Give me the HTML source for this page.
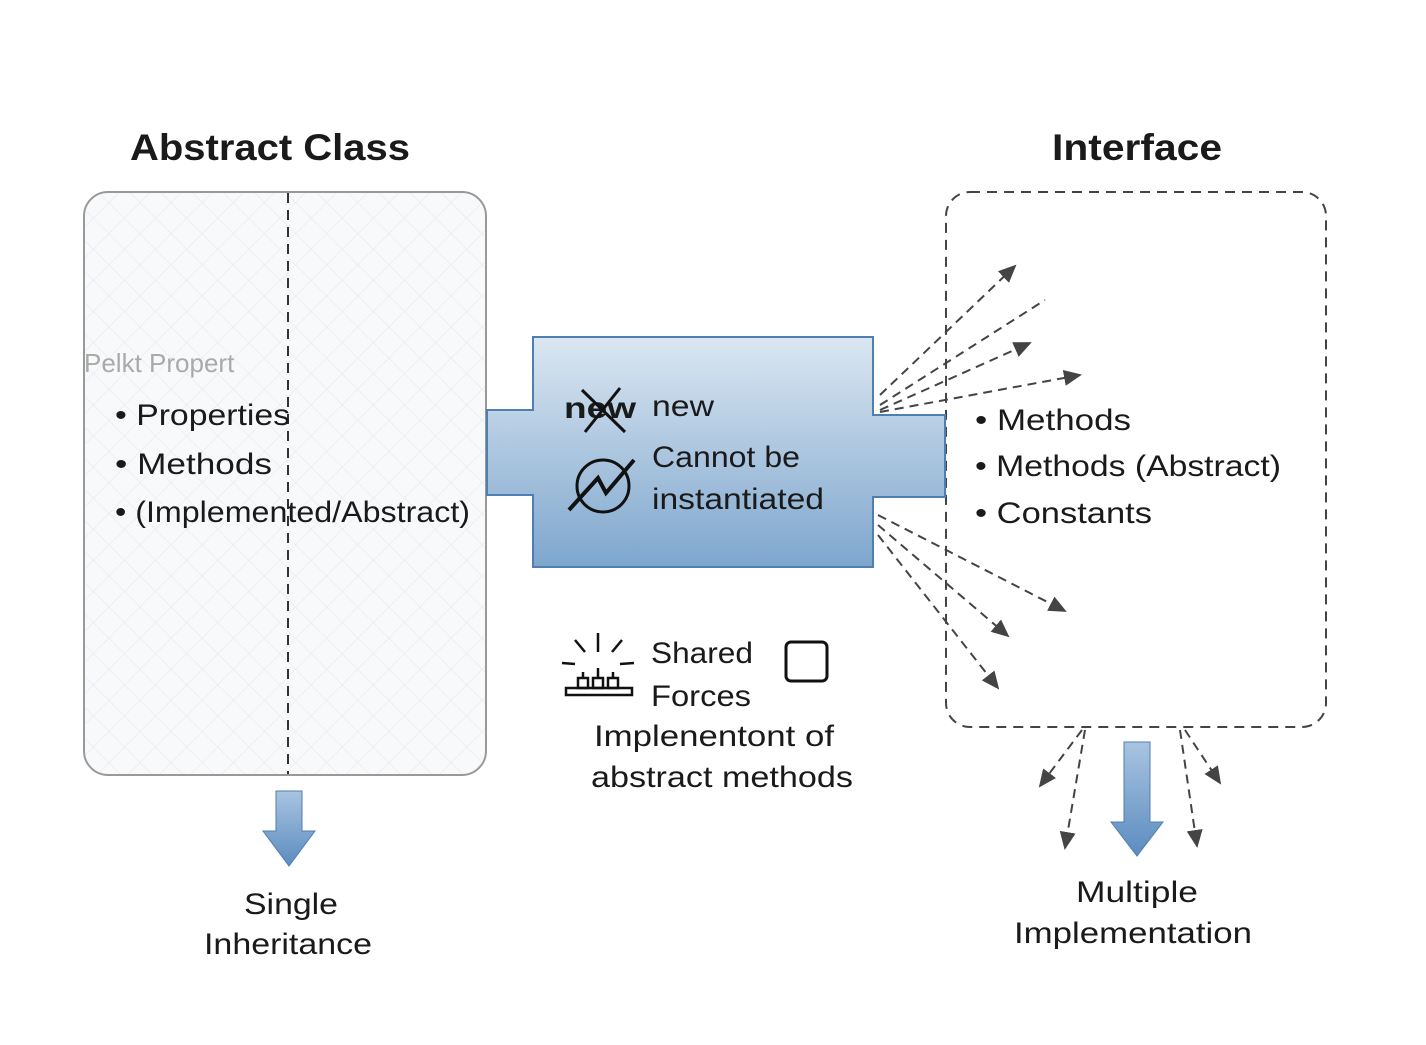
<!DOCTYPE html>
<html><head><style>
html,body{margin:0;padding:0;background:#fff;}
svg text{font-family:"Liberation Sans",sans-serif;fill:#1a1a1a;}
</style></head><body>
<svg width="1426" height="1040" viewBox="0 0 1426 1040" xmlns="http://www.w3.org/2000/svg">
<defs>
<linearGradient id="bg" x1="0" y1="0" x2="0" y2="1">
<stop offset="0" stop-color="#dbe7f2"/><stop offset="1" stop-color="#7ea6cd"/></linearGradient>
<linearGradient id="ar" x1="0" y1="0" x2="0" y2="1">
<stop offset="0" stop-color="#a9c4e0"/><stop offset="1" stop-color="#5b8cc0"/></linearGradient>
<pattern id="grid" width="22" height="22" patternUnits="userSpaceOnUse" patternTransform="rotate(45)">
<path d="M0 0H22M0 0V22" stroke="#e3e7ec" stroke-width="1"/></pattern>
<marker id="ah" markerWidth="10" markerHeight="10" refX="8" refY="5" orient="auto"><path d="M0 1L9 5L0 9z" fill="#444"/></marker>
</defs>
<g lengthAdjust="spacingAndGlyphs">
<text x="130" y="160" font-size="37" font-weight="bold" textLength="280" lengthAdjust="spacingAndGlyphs">Abstract Class</text>
<text x="1052" y="160" font-size="37" font-weight="bold" textLength="170" lengthAdjust="spacingAndGlyphs">Interface</text>
</g>
<rect x="84" y="192" width="402" height="583" rx="24" fill="#f8f9fb" stroke="#999" stroke-width="2"/>
<rect x="85" y="193" width="400" height="581" rx="23" fill="url(#grid)"/>
<line x1="288" y1="193" x2="288" y2="774" stroke="#333" stroke-width="2" stroke-dasharray="10,7"/>
<text x="84" y="372" font-size="26" style="fill:#aaa">Pelkt Propert</text>
<text x="115" y="425" font-size="30" textLength="175" lengthAdjust="spacingAndGlyphs">• Properties</text>
<text x="115" y="474" font-size="30" textLength="157" lengthAdjust="spacingAndGlyphs">• Methods</text>
<text x="115" y="522" font-size="30" textLength="355" lengthAdjust="spacingAndGlyphs">• (Implemented/Abstract)</text>
<rect x="946" y="192" width="380" height="535" rx="24" fill="none" stroke="#444" stroke-width="2" stroke-dasharray="10,7"/>
<g stroke="#444" stroke-width="2" stroke-dasharray="9,6" fill="none">
<line x1="880" y1="395" x2="1015" y2="266" marker-end="url(#ah)"/>
<line x1="880" y1="405" x2="1045" y2="300"/>
<line x1="880" y1="410" x2="1030" y2="343" marker-end="url(#ah)"/>
<line x1="880" y1="412" x2="1080" y2="375" marker-end="url(#ah)"/>
<line x1="878" y1="515" x2="1065" y2="611" marker-end="url(#ah)"/>
<line x1="878" y1="525" x2="1008" y2="636" marker-end="url(#ah)"/>
<line x1="878" y1="535" x2="998" y2="688" marker-end="url(#ah)"/>
<line x1="1082" y1="730" x2="1040" y2="786" marker-end="url(#ah)"/>
<line x1="1085" y1="730" x2="1065" y2="848" marker-end="url(#ah)"/>
<line x1="1180" y1="730" x2="1197" y2="846" marker-end="url(#ah)"/>
<line x1="1185" y1="730" x2="1220" y2="783" marker-end="url(#ah)"/>
</g>
<path d="M487 410H533V337H873V415H945V497H873V567H533V495H487Z" fill="url(#bg)" stroke="#4f7fb0" stroke-width="2"/>
<text x="564" y="418" font-size="30" font-weight="bold" textLength="72" lengthAdjust="spacingAndGlyphs">new</text>
<path d="M582 390L625 432M620 388L585 432" stroke="#111" stroke-width="3"/>
<text x="652" y="416" font-size="30" textLength="62" lengthAdjust="spacingAndGlyphs">new</text>
<circle cx="603" cy="486" r="26" fill="none" stroke="#111" stroke-width="3"/>
<path d="M569 510L598 478L606 493L634 460" fill="none" stroke="#111" stroke-width="4"/>
<text x="652" y="467" font-size="30" textLength="148" lengthAdjust="spacingAndGlyphs">Cannot be</text>
<text x="652" y="509" font-size="30" textLength="172" lengthAdjust="spacingAndGlyphs">instantiated</text>
<text x="975" y="430" font-size="30" textLength="156" lengthAdjust="spacingAndGlyphs">• Methods</text>
<text x="975" y="476" font-size="30" textLength="306" lengthAdjust="spacingAndGlyphs">• Methods (Abstract)</text>
<text x="975" y="523" font-size="30" textLength="177" lengthAdjust="spacingAndGlyphs">• Constants</text>
<g stroke="#111" stroke-width="2.5" fill="none">
<rect x="566" y="688" width="66" height="7"/>
<rect x="578" y="678" width="10" height="10"/><rect x="593" y="678" width="10" height="10"/><rect x="608" y="678" width="10" height="10"/>
<path d="M598 633V652M575 640L585 652M622 640L612 652M562 663L575 664M634 663L620 664M583 672V678M598 668V678M613 672V678"/>
</g>
<text x="651" y="663" font-size="30" textLength="102" lengthAdjust="spacingAndGlyphs">Shared</text>
<text x="651" y="706" font-size="30" textLength="100" lengthAdjust="spacingAndGlyphs">Forces</text>
<rect x="786" y="642" width="41" height="39" rx="5" fill="none" stroke="#111" stroke-width="3"/>
<text x="594" y="746" font-size="30" textLength="240" lengthAdjust="spacingAndGlyphs">Implenentont of</text>
<text x="591" y="787" font-size="30" textLength="262" lengthAdjust="spacingAndGlyphs">abstract methods</text>
<path d="M276 791H302V831H315L289 866L263 831H276Z" fill="url(#ar)" stroke="#4f7fb0"/>
<path d="M1124 742H1150V822H1163L1137 856L1111 822H1124Z" fill="url(#ar)" stroke="#4f7fb0"/>
<text x="244" y="914" font-size="30" textLength="94" lengthAdjust="spacingAndGlyphs">Single</text>
<text x="204" y="954" font-size="30" textLength="168" lengthAdjust="spacingAndGlyphs">Inheritance</text>
<text x="1076" y="902" font-size="30" textLength="122" lengthAdjust="spacingAndGlyphs">Multiple</text>
<text x="1014" y="943" font-size="30" textLength="238" lengthAdjust="spacingAndGlyphs">Implementation</text>
</svg>
</body></html>
